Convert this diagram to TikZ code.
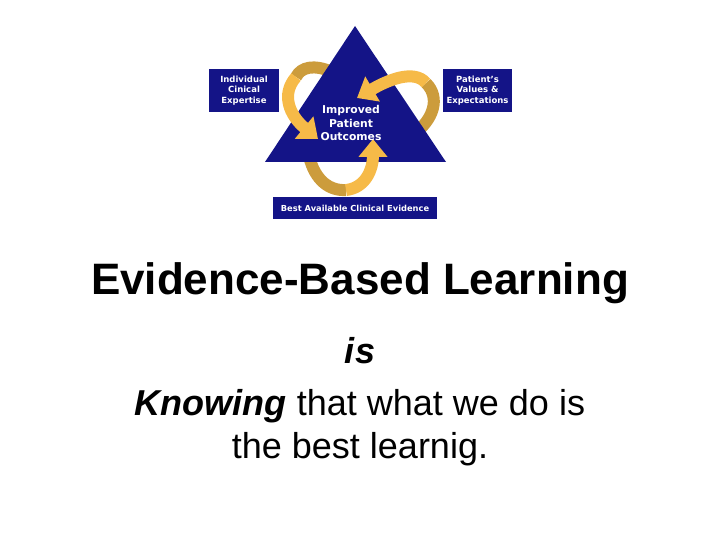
\documentclass[tikz,border=0pt]{standalone}
\usepackage{fontspec}
\setmainfont{Liberation Sans}
\newfontfamily\boxfont{DejaVu Sans}
\usepackage{tikz}
\usetikzlibrary{
  arrows.meta,
}
\definecolor{ebnavy}{RGB}{20,20,135}
\definecolor{ebgold}{RGB}{246,186,72}
\definecolor{ebgolddark}{RGB}{204,156,60}

\begin{document}
\begin{tikzpicture}[
  x = 1pt,
  y = -1pt,
  label box/.style={
    fill = ebnavy,
    text = white,
    font = \boxfont\bfseries\fontsize{8.5}{10.3}\selectfont,
    align = center,
    inner sep = 0pt,
  },
  ribbon back/.style={
    draw = ebgolddark,
    line width = 12pt,
  },
  ribbon front/.style={
    draw = ebgold,
    line width = 12pt,
    -{Triangle[width = 28pt, length = 18pt]},
  },
  slide text/.style={
    anchor = base,
    inner sep = 0pt,
    font = \fontsize{36}{43}\selectfont,
  },
  ]
  \useasboundingbox (0,0) rectangle (720,540);

  % back side of the three ribbons
  \draw [ribbon back] (332,72) .. controls (314,64) and (301,67) .. (296,77);
  \draw [ribbon back] (414,134) .. controls (433,120) and (441,98) .. (426,83);
  \draw [ribbon back] (309,156) .. controls (315,181) and (330,191) .. (346,190);

  % triangle
  \coordinate (apex) at (355,26);
  \coordinate (base-right) at (446,162);
  \coordinate (base-left) at (265,162);
  \fill [ebnavy] (apex) -- (base-right) -- (base-left) -- cycle;

  % front side of the ribbons
  \draw [ribbon front] (296,77) .. controls (281,94) and (289,115) .. (318,139);
  \draw [ribbon front] (426,83) .. controls (414,69) and (388,80) .. (357,98);
  \draw [ribbon front] (346,190) .. controls (365,188) and (373,170) .. (373,139);

  \node [font = \boxfont\bfseries\fontsize{10.8}{13.5}\selectfont, text = white,
    align = center, name = node-outcomes] at (351,123)
  {Improved\\Patient\\Outcomes};

  \node [label box, minimum width = 70, minimum height = 43,
    name = node-expertise] at (244,90.5)
  {Individual\\Cinical\\Expertise};
  \node [label box, minimum width = 69, minimum height = 43,
    name = node-values] at (477.5,90.5)
  {Patient’s\\Values \&\\Expectations};
  \node [label box, font = \boxfont\bfseries\fontsize{8.3}{10}\selectfont,
    minimum width = 164, minimum height = 22,
    name = node-evidence] at (355,208)
  {Best Available Clinical Evidence};

  \node [slide text, font = \bfseries\fontsize{44}{53}\selectfont,
    name = node-title] at (360,294) {Evidence-Based Learning};
  \node [slide text, name = node-is] at (360,363) {\textbf{\textit{is}}};
  \node [slide text, name = node-knowing] at (360,415)
  {\textbf{\textit{Knowing}} that what we do is};
  \node [slide text, name = node-best] at (360,458) {the best learnig.};
\end{tikzpicture}
\end{document}
